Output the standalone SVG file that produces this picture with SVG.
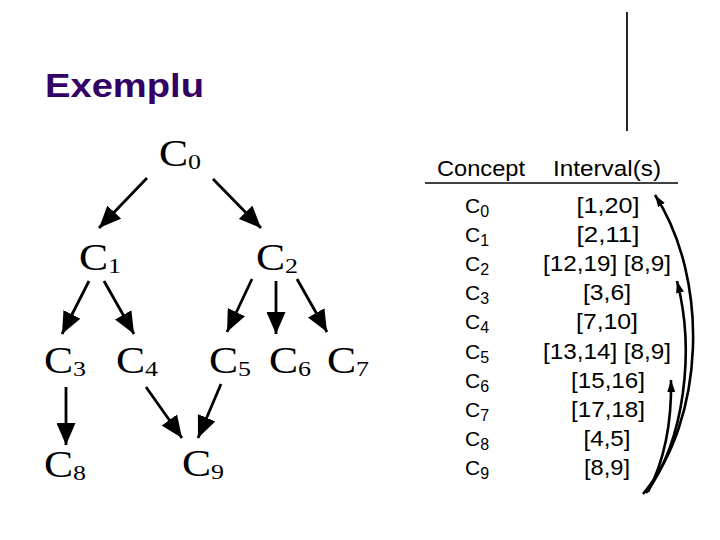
<svg xmlns="http://www.w3.org/2000/svg" width="720" height="540" viewBox="0 0 720 540">
<style>
.tn{font-family:"Liberation Serif","Times New Roman",serif;font-size:37px;fill:#000}
.ts{font-size:22px}
.title{font-family:"Liberation Sans",Arial,sans-serif;font-size:34px;font-weight:bold;fill:#330066}
.tb{font-family:"Liberation Sans",Arial,sans-serif;font-size:22px;fill:#000}
.cs{font-family:"Liberation Sans",Arial,sans-serif;font-size:21px;fill:#000}
.sub{font-size:16px}
.edge{stroke:#000;stroke-width:2.8;fill:none;marker-end:url(#ah)}
.arc{stroke:#000;stroke-width:2.6;fill:none;marker-end:url(#ah2)}
</style>
<defs>
<marker id="ah" markerUnits="userSpaceOnUse" markerWidth="22" markerHeight="19" viewBox="0 0 22 19" refX="22" refY="9.5" orient="auto">
<path d="M0,0 L22,9.5 L0,19 z" fill="#000"/>
</marker>
<marker id="ah2" markerUnits="userSpaceOnUse" markerWidth="12" markerHeight="8" viewBox="0 0 12 8" refX="12" refY="4" orient="auto">
<path d="M0,0 L12,4 L0,8 z" fill="#000"/>
</marker>
</defs>
<rect width="720" height="540" fill="#fff"/>
<line x1="627" y1="12" x2="627" y2="131" stroke="#000" stroke-width="1.7"/>
<text class="title" x="45" y="97" textLength="159" lengthAdjust="spacingAndGlyphs">Exemplu</text>

<g id="connectors">
<line class="edge" x1="147" y1="178" x2="99" y2="228"/>
<line class="edge" x1="213" y1="179" x2="261" y2="228"/>
<line class="edge" x1="89" y1="281" x2="62" y2="334"/>
<line class="edge" x1="104" y1="281" x2="134" y2="334"/>
<line class="edge" x1="252" y1="279" x2="227" y2="332"/>
<line class="edge" x1="276" y1="281" x2="276" y2="334"/>
<line class="edge" x1="297" y1="279" x2="327" y2="332"/>
<line class="edge" x1="66" y1="387" x2="66" y2="445"/>
<line class="edge" x1="146" y1="387" x2="182" y2="438"/>
<line class="edge" x1="221" y1="384" x2="198" y2="438"/>
</g>

<g id="C0"><text class="tn" transform="translate(159 166) scale(1.18 1)">C<tspan class="ts" dy="3">0</tspan></text></g>
<g id="C1"><text class="tn" transform="translate(79 270) scale(1.18 1)">C<tspan class="ts" dy="3">1</tspan></text></g>
<g id="C2"><text class="tn" transform="translate(256 270) scale(1.18 1)">C<tspan class="ts" dy="3">2</tspan></text></g>
<g id="C3"><text class="tn" transform="translate(44 373) scale(1.18 1)">C<tspan class="ts" dy="3">3</tspan></text></g>
<g id="C4"><text class="tn" transform="translate(116 373) scale(1.18 1)">C<tspan class="ts" dy="3">4</tspan></text></g>
<g id="C5"><text class="tn" transform="translate(209 373) scale(1.18 1)">C<tspan class="ts" dy="3">5</tspan></text></g>
<g id="C6"><text class="tn" transform="translate(269 373) scale(1.18 1)">C<tspan class="ts" dy="3">6</tspan></text></g>
<g id="C7"><text class="tn" transform="translate(327 373) scale(1.18 1)">C<tspan class="ts" dy="3">7</tspan></text></g>
<g id="C8"><text class="tn" transform="translate(44 477) scale(1.18 1)">C<tspan class="ts" dy="3">8</tspan></text></g>
<g id="C9"><text class="tn" transform="translate(182 476) scale(1.18 1)">C<tspan class="ts" dy="3">9</tspan></text></g>

<g id="table">
<text class="tb" x="481" y="176" text-anchor="middle" textLength="88" lengthAdjust="spacingAndGlyphs">Concept</text>
<text class="tb" x="607" y="176" text-anchor="middle" textLength="108" lengthAdjust="spacingAndGlyphs">Interval(s)</text>
<line x1="425" y1="183" x2="678" y2="183" stroke="#000" stroke-width="1.3"/>
<g class="cs">
<text x="465" y="213">C<tspan class="sub" dy="4">0</tspan></text>
<text x="465" y="242">C<tspan class="sub" dy="4">1</tspan></text>
<text x="465" y="271">C<tspan class="sub" dy="4">2</tspan></text>
<text x="465" y="300">C<tspan class="sub" dy="4">3</tspan></text>
<text x="465" y="329">C<tspan class="sub" dy="4">4</tspan></text>
<text x="465" y="359">C<tspan class="sub" dy="4">5</tspan></text>
<text x="465" y="388">C<tspan class="sub" dy="4">6</tspan></text>
<text x="465" y="417">C<tspan class="sub" dy="4">7</tspan></text>
<text x="465" y="446">C<tspan class="sub" dy="4">8</tspan></text>
<text x="465" y="475">C<tspan class="sub" dy="4">9</tspan></text>
</g>
<g class="tb" text-anchor="middle">
<text x="608" y="213" textLength="63" lengthAdjust="spacingAndGlyphs">[1,20]</text>
<text x="608" y="242" textLength="63" lengthAdjust="spacingAndGlyphs">[2,11]</text>
<text x="607" y="271" textLength="128" lengthAdjust="spacingAndGlyphs">[12,19] [8,9]</text>
<text x="607" y="300" textLength="48" lengthAdjust="spacingAndGlyphs">[3,6]</text>
<text x="607" y="329" textLength="62" lengthAdjust="spacingAndGlyphs">[7,10]</text>
<text x="607" y="359" textLength="128" lengthAdjust="spacingAndGlyphs">[13,14] [8,9]</text>
<text x="608" y="388" textLength="74" lengthAdjust="spacingAndGlyphs">[15,16]</text>
<text x="608" y="417" textLength="74" lengthAdjust="spacingAndGlyphs">[17,18]</text>
<text x="607" y="446" textLength="47" lengthAdjust="spacingAndGlyphs">[4,5]</text>
<text x="607" y="475" textLength="46" lengthAdjust="spacingAndGlyphs">[8,9]</text>
</g>
</g>

<g id="arcs">
<path class="arc" d="M643,494 C705,420 710,280 655,195"/>
<path class="arc" d="M646,493 C685,440 695,350 677,281"/>
<path class="arc" d="M648,492 C662,465 672,430 671,380"/>
</g>
</svg>
